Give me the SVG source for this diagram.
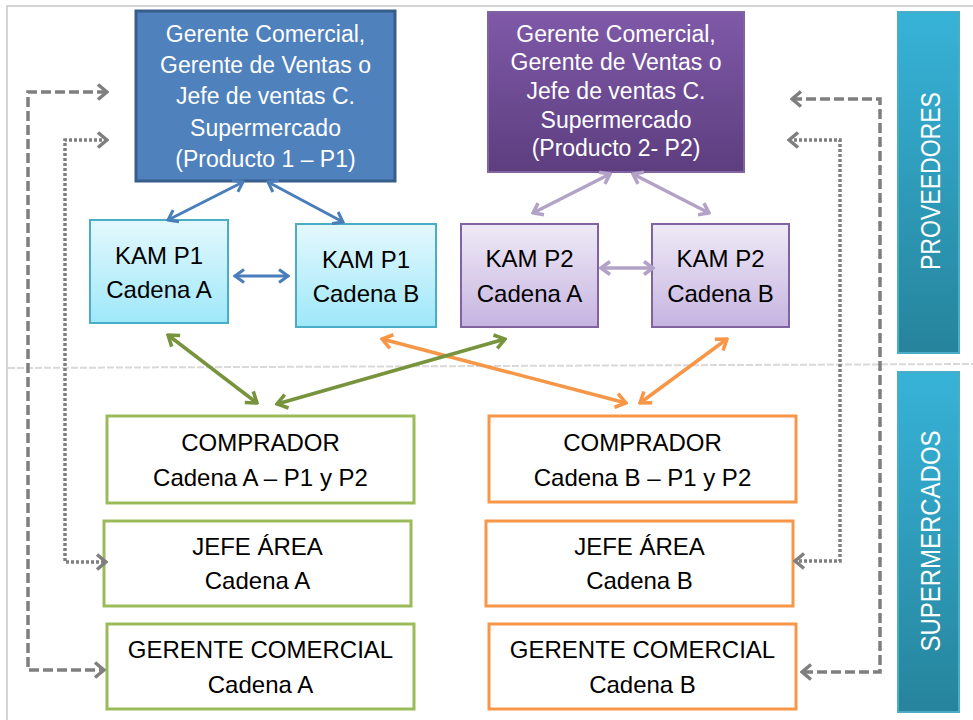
<svg xmlns="http://www.w3.org/2000/svg" width="973" height="720" viewBox="0 0 973 720">
<defs>
<style>
.t{font-family:"Liberation Sans",Arial,sans-serif;font-size:24px;fill:#000;text-anchor:middle}
.tw{font-family:"Liberation Sans",Arial,sans-serif;font-size:23px;fill:#fff;text-anchor:middle}
.tb{font-family:"Liberation Sans",Arial,sans-serif;font-size:27px;fill:#fff;text-anchor:middle}
.kam1{fill:url(#gCyan);stroke:#4BACC6;stroke-width:2}
.kam2{fill:url(#gLav);stroke:#8064A2;stroke-width:2}
.green{fill:#fff;stroke:#9BBB59;stroke-width:3}
.orange{fill:#fff;stroke:#F79646;stroke-width:3}
.bar{fill:url(#gBar);stroke:#4BACC6;stroke-width:2}
.cb{fill:none;stroke:#4A7EBB;stroke-width:3;marker-start:url(#mBlue);marker-end:url(#mBlue)}
.cp{fill:none;stroke:#B3A2C7;stroke-width:3.5;marker-start:url(#mPur);marker-end:url(#mPur)}
.cg{fill:none;stroke:#77933C;stroke-width:3.5;marker-start:url(#mGrn);marker-end:url(#mGrn)}
.co{fill:none;stroke:#F79646;stroke-width:3.5;marker-start:url(#mOra);marker-end:url(#mOra)}
.dash{fill:none;stroke:#7F7F7F;stroke-width:3.5;stroke-dasharray:10 4;marker-start:url(#mGry);marker-end:url(#mGry)}
.dot{fill:none;stroke:#7F7F7F;stroke-width:3.5;stroke-dasharray:3 2;marker-start:url(#mGry);marker-end:url(#mGry)}
</style>
<linearGradient id="gCyan" x1="0" y1="0" x2="0" y2="1"><stop offset="0" stop-color="#E4F8FD"/><stop offset="1" stop-color="#9EE8FA"/></linearGradient>
<linearGradient id="gLav" x1="0" y1="0" x2="0" y2="1"><stop offset="0" stop-color="#EFEAF7"/><stop offset="1" stop-color="#C6B4E0"/></linearGradient>
<linearGradient id="gPur" x1="0" y1="0" x2="0" y2="1"><stop offset="0" stop-color="#7F59A8"/><stop offset="1" stop-color="#5D3E7F"/></linearGradient>
<linearGradient id="gBar" x1="0" y1="0" x2="0" y2="1"><stop offset="0" stop-color="#37B3D8"/><stop offset="1" stop-color="#26849C"/></linearGradient>
<marker id="mBlue" viewBox="-14 -9 16 18" refX="0" refY="0" markerWidth="16" markerHeight="18" markerUnits="userSpaceOnUse" orient="auto-start-reverse"><path d="M-9,-6.5 L0,0 L-9,6.5" fill="none" stroke="#4A7EBB" stroke-width="3"/></marker>
<marker id="mPur" viewBox="-14 -9 16 18" refX="0" refY="0" markerWidth="16" markerHeight="18" markerUnits="userSpaceOnUse" orient="auto-start-reverse"><path d="M-9,-6.5 L0,0 L-9,6.5" fill="none" stroke="#B3A2C7" stroke-width="3.5"/></marker>
<marker id="mGrn" viewBox="-14 -9 16 18" refX="0" refY="0" markerWidth="16" markerHeight="18" markerUnits="userSpaceOnUse" orient="auto-start-reverse"><path d="M-10,-7 L0,0 L-10,7" fill="none" stroke="#77933C" stroke-width="3.5"/></marker>
<marker id="mOra" viewBox="-14 -9 16 18" refX="0" refY="0" markerWidth="16" markerHeight="18" markerUnits="userSpaceOnUse" orient="auto-start-reverse"><path d="M-10,-7 L0,0 L-10,7" fill="none" stroke="#F79646" stroke-width="3.5"/></marker>
<marker id="mGry" viewBox="-14 -10 16 20" refX="0" refY="0" markerWidth="16" markerHeight="20" markerUnits="userSpaceOnUse" orient="auto-start-reverse"><path d="M-9,-7.5 L0,0 L-9,7.5" fill="none" stroke="#7F7F7F" stroke-width="3.5"/></marker>
</defs>
<rect x="0" y="0" width="973" height="720" fill="#fff"/>
<g id="frame">
<path d="M7,720 V6 H973" fill="none" stroke="#C8C8C8" stroke-width="1.5"/>
<line x1="8" y1="368" x2="973" y2="364" stroke="#D9D9D9" stroke-width="2" stroke-dasharray="7 2"/>
</g>
<g id="bar-proveedores">
<rect class="bar" x="898" y="12" width="61" height="341"/>
<text class="tb" transform="translate(940,181) rotate(-90)" textLength="178" lengthAdjust="spacingAndGlyphs">PROVEEDORES</text>
</g>
<g id="bar-supermercados">
<rect class="bar" x="898" y="372" width="61" height="340"/>
<text class="tb" transform="translate(940,541) rotate(-90)" textLength="221" lengthAdjust="spacingAndGlyphs">SUPERMERCADOS</text>
</g>
<g id="gerente-p1">
<rect x="136" y="11" width="259" height="170" fill="#4F81BD" stroke="#385D8A" stroke-width="3"/>
<text class="tw" x="265.5" y="42">Gerente Comercial,</text>
<text class="tw" x="265.5" y="73">Gerente de Ventas o</text>
<text class="tw" x="265.5" y="104">Jefe de ventas C.</text>
<text class="tw" x="265.5" y="136">Supermercado</text>
<text class="tw" x="265.5" y="167">(Producto 1 – P1)</text>
</g>
<g id="gerente-p2">
<rect x="488" y="12" width="256" height="160" fill="url(#gPur)" stroke="#8064A2" stroke-width="2"/>
<text class="tw" x="616" y="42">Gerente Comercial,</text>
<text class="tw" x="616" y="70">Gerente de Ventas o</text>
<text class="tw" x="616" y="99">Jefe de ventas C.</text>
<text class="tw" x="616" y="128">Supermercado</text>
<text class="tw" x="616" y="156">(Producto 2- P2)</text>
</g>
<g id="kam-p1-a">
<rect class="kam1" x="90" y="220" width="138" height="103"/>
<text class="t" x="159" y="264">KAM P1</text>
<text class="t" x="159" y="298">Cadena A</text>
</g>
<g id="kam-p1-b">
<rect class="kam1" x="296" y="224" width="140" height="103"/>
<text class="t" x="366" y="268">KAM P1</text>
<text class="t" x="366" y="302">Cadena B</text>
</g>
<g id="kam-p2-a">
<rect class="kam2" x="461" y="224" width="137" height="103"/>
<text class="t" x="529.5" y="267">KAM P2</text>
<text class="t" x="529.5" y="302">Cadena A</text>
</g>
<g id="kam-p2-b">
<rect class="kam2" x="652" y="224" width="137" height="103"/>
<text class="t" x="720.5" y="267">KAM P2</text>
<text class="t" x="720.5" y="302">Cadena B</text>
</g>
<g id="comprador-a">
<rect class="green" x="107" y="416" width="307" height="87"/>
<text class="t" x="260.5" y="451">COMPRADOR</text>
<text class="t" x="260.5" y="486">Cadena A – P1 y P2</text>
</g>
<g id="jefe-a">
<rect class="green" x="104" y="521" width="307" height="85"/>
<text class="t" x="257.5" y="555">JEFE ÁREA</text>
<text class="t" x="257.5" y="589">Cadena A</text>
</g>
<g id="gerente-com-a">
<rect class="green" x="107" y="624" width="307" height="85"/>
<text class="t" x="260.5" y="658">GERENTE COMERCIAL</text>
<text class="t" x="260.5" y="693">Cadena A</text>
</g>
<g id="comprador-b">
<rect class="orange" x="489" y="416" width="307" height="86"/>
<text class="t" x="642.5" y="451">COMPRADOR</text>
<text class="t" x="642.5" y="486">Cadena B – P1 y P2</text>
</g>
<g id="jefe-b">
<rect class="orange" x="486" y="521" width="307" height="85"/>
<text class="t" x="639.5" y="555">JEFE ÁREA</text>
<text class="t" x="639.5" y="589">Cadena B</text>
</g>
<g id="gerente-com-b">
<rect class="orange" x="489" y="624" width="307" height="85"/>
<text class="t" x="642.5" y="658">GERENTE COMERCIAL</text>
<text class="t" x="642.5" y="693">Cadena B</text>
</g>
<g id="connectors">
<line class="cb" x1="243" y1="182" x2="168" y2="220"/>
<line class="cb" x1="268" y1="182" x2="343" y2="222"/>
<line class="cb" x1="235" y1="276" x2="288" y2="276"/>
<line class="cp" x1="610" y1="174" x2="533" y2="213"/>
<line class="cp" x1="633" y1="174" x2="709" y2="213"/>
<line class="cp" x1="601" y1="268" x2="653" y2="268"/>
<line class="co" x1="382" y1="339" x2="626" y2="403"/>
<line class="co" x1="640" y1="403" x2="727" y2="339"/>
<line class="cg" x1="168" y1="335" x2="257" y2="403"/>
<line class="cg" x1="277" y1="404" x2="505" y2="339"/>
<path class="dash" d="M107,92 H28 V670 H104"/>
<path class="dot" d="M107,140 H65 V562 H106"/>
<path class="dash" d="M792,99 H880 V672 H802"/>
<path class="dot" d="M789,140 H840 V561 H795"/>
</g>
</svg>
